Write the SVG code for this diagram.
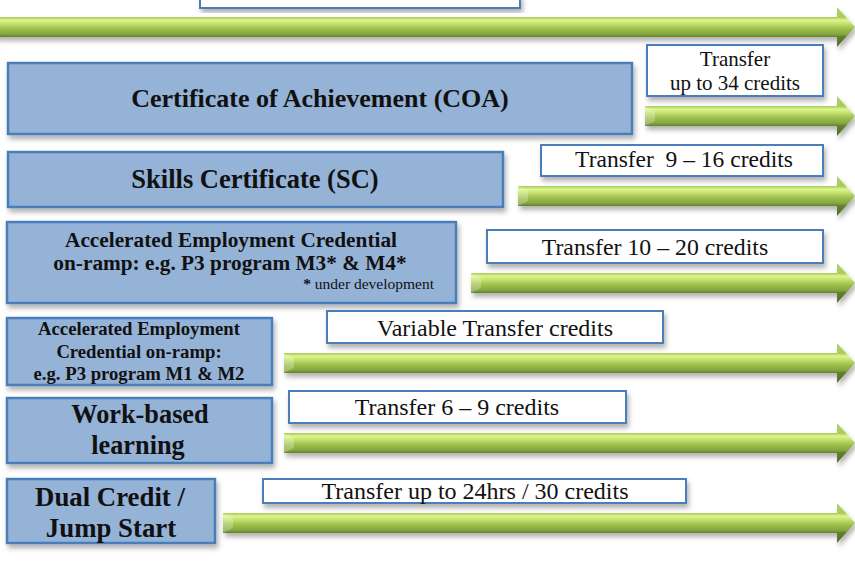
<svg xmlns="http://www.w3.org/2000/svg" width="855" height="563" viewBox="0 0 855 563">
<style>
.node{fill:#95b3d7;stroke:#4a7ebb;stroke-width:2.5;filter:url(#sh)}
.lbl{fill:#ffffff;stroke:#4a7ebb;stroke-width:2;filter:url(#sh)}
.arr{fill:url(#g);filter:url(#sh)}
.bev{fill:#ffffff;opacity:0.25}
text{font-family:"Liberation Serif","Times New Roman",Times,serif;fill:#111}
.nt{font-weight:bold;text-anchor:middle}
.lt{text-anchor:middle}
</style>
<defs>
<linearGradient id="g" x1="0" y1="0" x2="0" y2="1">
<stop offset="0" stop-color="#b5d46a"/>
<stop offset="0.25" stop-color="#a8c858"/>
<stop offset="0.33" stop-color="#def58e"/>
<stop offset="0.43" stop-color="#c2de6c"/>
<stop offset="0.55" stop-color="#9cbe4e"/>
<stop offset="0.68" stop-color="#86a640"/>
<stop offset="0.75" stop-color="#62802c"/>
<stop offset="1" stop-color="#56712a"/>
</linearGradient>
<filter id="sh" x="-5%" y="-30%" width="110%" height="170%">
<feDropShadow dx="2" dy="4" stdDeviation="2.5" flood-color="#000" flood-opacity="0.3"/>
</filter>
</defs>
<rect width="855" height="563" fill="#ffffff"/>

<g id="connectors">
<path class="arr" d="M-5,17 H837 V7 L855,27 L837,47 V37 H-5 Z"/>
<path class="arr" d="M645,106 H837 V96 L855,116 L837,136 V126 H645 Z"/>
<path class="bev" d="M645,106 L655,111 V121 L645,126 Z"/>
<path class="arr" d="M518,186 H837 V176 L855,196 L837,216 V206 H518 Z"/>
<path class="bev" d="M518,186 L528,191 V201 L518,206 Z"/>
<path class="arr" d="M471,273 H837 V263 L855,283 L837,303 V293 H471 Z"/>
<path class="bev" d="M471,273 L481,278 V288 L471,293 Z"/>
<path class="arr" d="M284,353 H837 V343 L855,363 L837,383 V373 H284 Z"/>
<path class="bev" d="M284,353 L294,358 V368 L284,373 Z"/>
<path class="arr" d="M284,433 H837 V423 L855,443 L837,463 V453 H284 Z"/>
<path class="bev" d="M284,433 L294,438 V448 L284,453 Z"/>
<path class="arr" d="M223,513 H837 V503 L855,523 L837,543 V533 H223 Z"/>
<path class="bev" d="M223,513 L233,518 V528 L223,533 Z"/>
</g>

<g id="top-box">
<rect class="lbl" x="200" y="-4" width="320" height="12"/>
</g>

<g id="coa">
<rect class="node" x="8" y="63" width="624" height="71"/>
<text class="nt" x="320" y="107" font-size="26">Certificate of Achievement (COA)</text>
</g>
<g id="coa-label">
<rect class="lbl" x="647" y="45" width="176" height="51"/>
<text class="lt" x="735" y="66" font-size="21">Transfer</text>
<text class="lt" x="735" y="90" font-size="21">up to 34 credits</text>
</g>

<g id="sc">
<rect class="node" x="8" y="152" width="495" height="55"/>
<text class="nt" x="255" y="188" font-size="26.5">Skills Certificate (SC)</text>
</g>
<g id="sc-label">
<rect class="lbl" x="541" y="145" width="282" height="31"/>
<text class="lt" x="684" y="167" font-size="23.5" xml:space="preserve">Transfer  9 – 16 credits</text>
</g>

<g id="aec-m3m4">
<rect class="node" x="7" y="222" width="449" height="81"/>
<text class="nt" x="231" y="247" font-size="21.3">Accelerated Employment Credential</text>
<text class="nt" x="230" y="270" font-size="21.3">on-ramp: e.g. P3 program M3* &amp; M4*</text>
<text x="434" y="289" font-size="15.5" text-anchor="end"><tspan font-weight="bold">*</tspan> under development</text>
</g>
<g id="aec-m3m4-label">
<rect class="lbl" x="487" y="230" width="336" height="33"/>
<text class="lt" x="655" y="255" font-size="23.8">Transfer 10 – 20 credits</text>
</g>

<g id="aec-m1m2">
<rect class="node" x="7" y="318" width="265" height="67"/>
<text class="nt" x="139" y="335" font-size="18.7">Accelerated Employment</text>
<text class="nt" x="139" y="358" font-size="18.7">Credential on-ramp:</text>
<text class="nt" x="139" y="380" font-size="18.7">e.g. P3 program M1 &amp; M2</text>
</g>
<g id="aec-m1m2-label">
<rect class="lbl" x="327" y="311" width="336" height="32"/>
<text class="lt" x="495" y="336" font-size="24">Variable Transfer credits</text>
</g>

<g id="wbl">
<rect class="node" x="7" y="398" width="265" height="65"/>
<text class="nt" x="140" y="423" font-size="26.3">Work-based</text>
<text class="nt" x="138" y="454" font-size="26.3">learning</text>
</g>
<g id="wbl-label">
<rect class="lbl" x="289" y="391" width="337" height="32"/>
<text class="lt" x="457" y="415" font-size="24">Transfer 6 – 9 credits</text>
</g>

<g id="dc">
<rect class="node" x="7" y="479" width="208" height="64"/>
<text class="nt" x="110" y="506" font-size="26.8">Dual Credit /</text>
<text class="nt" x="111" y="537" font-size="26.8">Jump Start</text>
</g>
<g id="dc-label">
<rect class="lbl" x="263" y="479" width="423" height="24"/>
<text class="lt" x="475" y="499" font-size="24">Transfer up to 24hrs / 30 credits</text>
</g>
</svg>
